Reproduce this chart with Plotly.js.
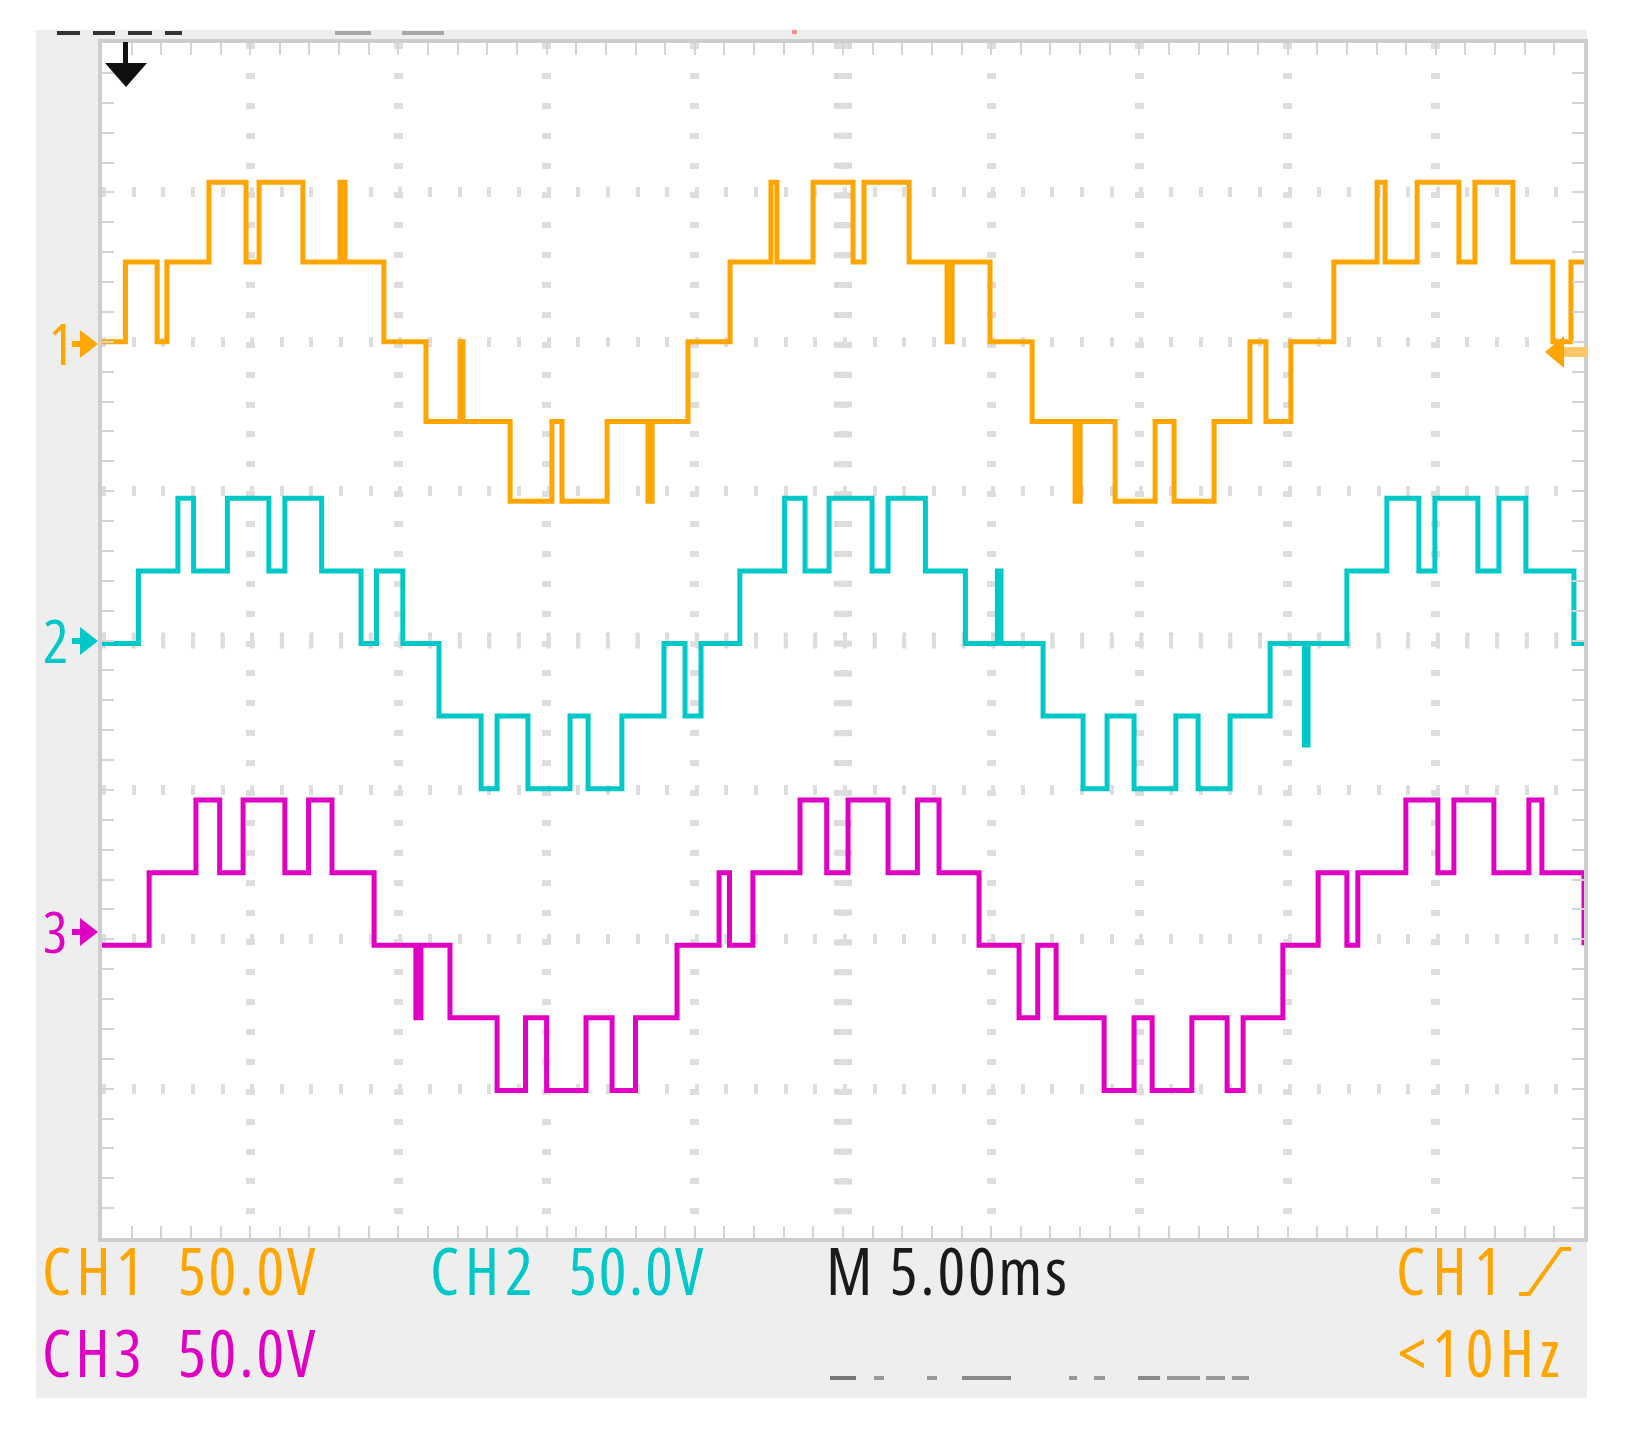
<!DOCTYPE html>
<html>
<head>
<meta charset="utf-8">
<script src="https://cdn.plot.ly/plotly-3.0.1.min.js"></script>
<style>
html,body{margin:0;padding:0;background:#ffffff;}
#chart{width:1637px;height:1436px;}
</style>
</head>
<body>
<div id="chart"></div>
<script>
// ---------------- DATA ----------------
// Time base 5.00 ms/div (10 div), vertical 50.0 V/div (8 div)
const timeRangeMs = [0, 50];
const voltRange = [-200, 200];

// CH1 (orange): transition times (ms) and voltage levels (V), step display ('hv')
const ch1Time = [0,0.79,1.86,2.19,3.61,4.86,5.30,6.78,8.03,8.20,9.51,10.93,12.08,12.18,13.77,15.18,15.52,17.04,18.42,18.56,19.77,21.19,22.57,22.77,23.99,25.34,25.71,27.23,28.51,28.68,29.96,31.38,32.83,33.00,34.18,35.53,36.17,37.52,38.73,39.27,40.11,41.56,43.02,43.29,44.37,45.78,46.32,47.60,48.95,49.56,50];
const ch1Volt = [0,26.7,0,26.7,53.4,26.7,53.4,26.7,53.4,26.7,0,-26.7,0,-26.7,-53.4,-26.7,-53.4,-26.7,-53.4,-26.7,0,26.7,53.4,26.7,53.4,26.7,53.4,26.7,0,26.7,0,-26.7,-53.4,-26.7,-53.4,-26.7,-53.4,-26.7,0,-26.7,0,26.7,53.4,26.7,53.4,26.7,53.4,26.7,0,26.7,26.7];
const ch1Offset = 100;   // ground marker "1" on screen (V)

// CH2 (cyan)
const ch2Time = [0,1.23,2.56,3.09,4.23,5.63,6.17,7.41,8.74,9.26,10.15,11.37,12.79,13.33,14.37,15.79,16.40,17.54,18.96,19.67,20.21,21.52,23.03,23.72,24.53,25.98,26.52,27.78,29.13,30.21,30.33,31.75,33.10,33.91,34.82,36.23,36.98,38.06,39.41,40.57,40.69,42.00,43.35,44.43,44.97,46.42,47.13,48.04,49.66,50];
const ch2Volt = [0,24.3,48.6,24.3,48.6,24.3,48.6,24.3,0,24.3,0,-24.3,-48.6,-24.3,-48.6,-24.3,-48.6,-24.3,0,-24.3,0,24.3,48.6,24.3,48.6,24.3,48.6,24.3,0,24.3,0,-24.3,-48.6,-24.3,-48.6,-24.3,-48.6,-24.3,0,-34,0,24.3,48.6,24.3,48.6,24.3,48.6,24.3,0,0];
const ch2Offset = -1;

// CH3 (magenta)
const ch3Time = [0,1.59,3.17,3.97,4.76,6.17,6.97,7.76,9.18,10.59,10.76,11.74,13.33,14.29,15.00,16.33,17.21,18.00,19.40,20.82,21.17,21.96,23.55,24.45,25.17,26.52,27.51,28.24,29.59,30.94,31.57,32.19,33.81,34.82,35.43,36.77,37.96,38.50,39.84,41.03,42.00,42.37,43.99,45.07,45.61,46.96,48.14,48.58,50];
const ch3Volt = [0,24.3,48.6,24.3,48.6,24.3,48.6,24.3,0,-24.3,0,-24.3,-48.6,-24.3,-48.6,-24.3,-48.6,-24.3,0,24.3,0,24.3,48.6,24.3,48.6,24.3,48.6,24.3,0,-24.3,0,-24.3,-48.6,-24.3,-48.6,-24.3,-48.6,-24.3,0,24.3,0,24.3,48.6,24.3,48.6,24.3,48.6,24.3,0];
const ch3Offset = -102;

// Readout texts
const readoutCh1 = ["CH1", "50.0V"];
const readoutCh2 = ["CH2", "50.0V"];
const readoutCh3 = ["CH3", "50.0V"];
const readoutTime = "M 5.00ms";
const readoutTrig = "CH1";
const readoutFreq = "<10Hz";
const channelMarks = ["1", "2", "3"];

// ---------------- STYLE / LAYOUT ----------------
const W = 1637, H = 1436;
const PL = 102, PR = 1584, PT = 43, PB = 1238;
const fx = p => (p - PL) / (PR - PL);
const fy = p => (PB - p) / (PB - PT);

const C1 = '#ffa500', C2 = '#00c8c8', C3 = '#e000c4';

// ---- pick an installed sans font whose proportions are closest to the scope readout font ----
const TARGET_ASPECT = 135 / 48;   // ink width of "50.0V" / cap height on the screenshot
const cv = document.createElement('canvas').getContext('2d');
function famAvailable(name){
  const s = 'CH1 50.0V M 5.00ms <10Hz';
  cv.font = '80px monospace'; const a = cv.measureText(s).width;
  cv.font = '80px "' + name + '", monospace'; const b = cv.measureText(s).width;
  cv.font = '80px serif'; const c = cv.measureText(s).width;
  cv.font = '80px "' + name + '", serif'; const d = cv.measureText(s).width;
  return Math.abs(a - b) > 0.5 || Math.abs(c - d) > 0.5;
}
function setFont(f, size){
  cv.font = size + 'px ' + f.css;
  if ('fontStretch' in cv) { try { cv.fontStretch = f.stretch; } catch(e) {} }
}
const candidates = [];
['Liberation Sans Narrow','DejaVu Sans Condensed'].forEach(n => candidates.push({name:n, stretch:'normal'}));
['Noto Sans','Open Sans','Roboto','DejaVu Sans'].forEach(n => {
  ['extra-condensed','condensed','semi-condensed','normal'].forEach(s => candidates.push({name:n, stretch:s}));
});
candidates.push({name:'Liberation Sans', stretch:'normal'});
let best = null;
for (const c of candidates) {
  if (!famAvailable(c.name)) continue;
  c.css = '"' + c.name + '", sans-serif';
  setFont(c, 100);
  const m = cv.measureText('50.0V');
  const cap = cv.measureText('H').actualBoundingBoxAscent;
  c.capRatio = cap / 100;
  c.aspect = (m.actualBoundingBoxLeft + m.actualBoundingBoxRight) / cap;
  c.score = Math.abs(c.aspect - TARGET_ASPECT);
  if (!best || c.score < best.score - 0.005) best = c;
}
if (!best) best = {name:'sans-serif', css:'sans-serif', stretch:'normal', capRatio:0.72};

function esc(s){ return s.replace(/&/g,'&amp;').replace(/</g,'&lt;').replace(/>/g,'&gt;'); }

// text annotation fitted to the ink box seen on the screenshot
function readout(txt, inkLeft, inkW, yc, color, capH){
  const size = capH / best.capRatio;
  setFont(best, size);
  const m = cv.measureText(txt);
  const ink = m.actualBoundingBoxLeft + m.actualBoundingBoxRight;
  const n = Array.from(txt).length;
  let ls = (n > 1 && inkW) ? (inkW - ink) / (n - 1) : 0;
  ls = Math.max(-0.12 * size, Math.min(0.15 * size, ls));
  const fA = m.fontBoundingBoxAscent || size * 0.93, fD = m.fontBoundingBoxDescent || size * 0.24;
  const xOrigin = inkLeft + m.actualBoundingBoxLeft;
  const yMid = yc + capH / 2 + (fD - fA) / 2;
  return {
    text: '<span style="letter-spacing:' + ls.toFixed(2) + 'px;font-stretch:' + best.stretch + '">' + esc(txt) + '</span>',
    xref:'paper', yref:'paper', x: fx(xOrigin), y: fy(yMid), xanchor:'left', yanchor:'middle',
    showarrow:false, borderpad:0, borderwidth:0,
    font:{family: best.css, size: size, color: color}
  };
}

function shift(arr, off){ return arr.map(v => v + off); }

const traces = [
  {x: ch1Time, y: shift(ch1Volt, ch1Offset), mode:'lines', line:{shape:'hv', width:5, color:C1}, hoverinfo:'skip', showlegend:false},
  {x: ch2Time, y: shift(ch2Volt, ch2Offset), mode:'lines', line:{shape:'hv', width:5, color:C2}, hoverinfo:'skip', showlegend:false},
  {x: ch3Time, y: shift(ch3Volt, ch3Offset), mode:'lines', line:{shape:'hv', width:5, color:C3}, hoverinfo:'skip', showlegend:false}
];

function rect(x0,y0,x1,y1,color,layer){
  return {type:'rect', xref:'paper', yref:'paper', x0:fx(x0), x1:fx(x1), y0:fy(y1), y1:fy(y0),
          fillcolor:color, line:{width:0}, layer: layer || 'above'};
}
function poly(pts,color){
  const d = pts.map((p,i)=>(i?'L':'M')+fx(p[0])+','+fy(p[1])).join(' ')+' Z';
  return {type:'path', xref:'paper', yref:'paper', path:d, fillcolor:color, line:{width:0}, layer:'above'};
}
function polyline(pts,color,w){
  const d = pts.map((p,i)=>(i?'L':'M')+fx(p[0])+','+fy(p[1])).join(' ');
  return {type:'path', xref:'paper', yref:'paper', path:d, line:{color:color, width:w}, layer:'above'};
}

const shapes = [
  // instrument panel and white screen
  rect(36, 30, 1587, 1398, '#eeeeee', 'below'),
  rect(PL, PT, PR, PB, '#ffffff', 'below'),
  // centre cross-hair tick marks
  {type:'line', xref:'x', yref:'y', x0:25, x1:25, y0:200, y1:-200, line:{color:'#dadada', width:18, dash:'6px,23.88px'}, layer:'below'},
  {type:'line', xref:'x', yref:'y', x0:0, x1:50, y0:0, y1:0, line:{color:'#dadada', width:16, dash:'4px,25.64px'}, layer:'below'},
  // top cut-off readout fragments
  rect(57,31,80,35,'#333333'), rect(93,31,115,35,'#333333'), rect(128,31,152,35,'#333333'), rect(165,31,182,35,'#333333'),
  rect(335,31,371,35,'#a8a8a8'), rect(402,31,444,35,'#a8a8a8'), rect(792,30,797,34,'#f09090'),
  // bottom faint readout fragments
  rect(830,1376,856,1380,'#777777'), rect(874,1376,884,1380,'#999999'), rect(927,1376,937,1380,'#999999'),
  rect(962,1376,1011,1380,'#888888'), rect(1069,1376,1077,1380,'#999999'), rect(1094,1376,1105,1380,'#999999'),
  rect(1138,1376,1160,1380,'#888888'), rect(1167,1376,1200,1380,'#999999'), rect(1206,1376,1225,1380,'#999999'), rect(1232,1376,1249,1380,'#999999'),
  // trigger position arrow (black, top-left)
  rect(123,42,128,84,'#111111'),
  poly([[105,63],[147,63],[126,87]], '#111111'),
  // channel ground markers
  rect(72,341,84,347,C1), poly([[80,330],[98,344],[80,358]], C1),
  rect(72,638,84,644,C2), poly([[80,627],[98,641],[80,655]], C2),
  rect(72,929,84,935,C3), poly([[80,918],[98,932],[80,946]], C3),
  // trigger level marker (right)
  rect(1560,347,1587,357,'#ffc96b'), poly([[1545,352],[1564,336],[1564,368]], C1),
  // rising-edge trigger symbol
  polyline([[1519,1294],[1529,1294],[1561,1249],[1571,1249]], C1, 4)
];

const CAP = 47;
const annotations = [
  readout(readoutCh1[0], 45, 90, 1271, C1, CAP),
  readout(readoutCh1[1], 181, 135, 1271, C1, CAP),
  readout(readoutCh2[0], 433, 97, 1271, C2, CAP),
  readout(readoutCh2[1], 572, 132, 1271, C2, CAP),
  readout(readoutTime, 830, 235, 1271, '#1a1a1a', CAP),
  readout(readoutTrig, 1399, 94, 1271, C1, CAP),
  readout(readoutCh3[0], 45, 94, 1353, C3, CAP),
  readout(readoutCh3[1], 181, 135, 1353, C3, CAP),
  readout(readoutFreq, 1399, 160, 1353, C1, CAP),
  readout(channelMarks[0], 52, 0, 344, C1, 41),
  readout(channelMarks[1], 45, 0, 641, C2, 43),
  readout(channelMarks[2], 45, 0, 932, C3, 41)
];

const axisCommon = {
  showline:true, linecolor:'#cdcdcd', linewidth:4, mirror:'ticks',
  ticks:'inside', ticklen:12, tickwidth:2, tickcolor:'#d4d4d4',
  showticklabels:false, zeroline:false, fixedrange:true, showgrid:true, gridcolor:'#dedede'
};

const layout = {
  width:W, height:H,
  margin:{l:PL, r:W-PR, t:PT, b:H-PB, autoexpand:false},
  paper_bgcolor:'#ffffff', plot_bgcolor:'#ffffff',
  showlegend:false,
  xaxis: Object.assign({}, axisCommon, {range:timeRangeMs, tick0:0, dtick:5, gridwidth:9, griddash:'6px,23.88px',
          minor:{dtick:1, ticks:'inside', ticklen:12, tickwidth:2, tickcolor:'#d4d4d4', showgrid:false}}),
  yaxis: Object.assign({}, axisCommon, {range:voltRange, tick0:0, dtick:50, gridwidth:10, griddash:'4px,25.64px',
          minor:{dtick:10, ticks:'inside', ticklen:12, tickwidth:2, tickcolor:'#d4d4d4', showgrid:false}}),
  shapes: shapes,
  annotations: annotations
};

Plotly.newPlot('chart', traces, layout, {displayModeBar:false, staticPlot:true});
</script>
</body>
</html>
